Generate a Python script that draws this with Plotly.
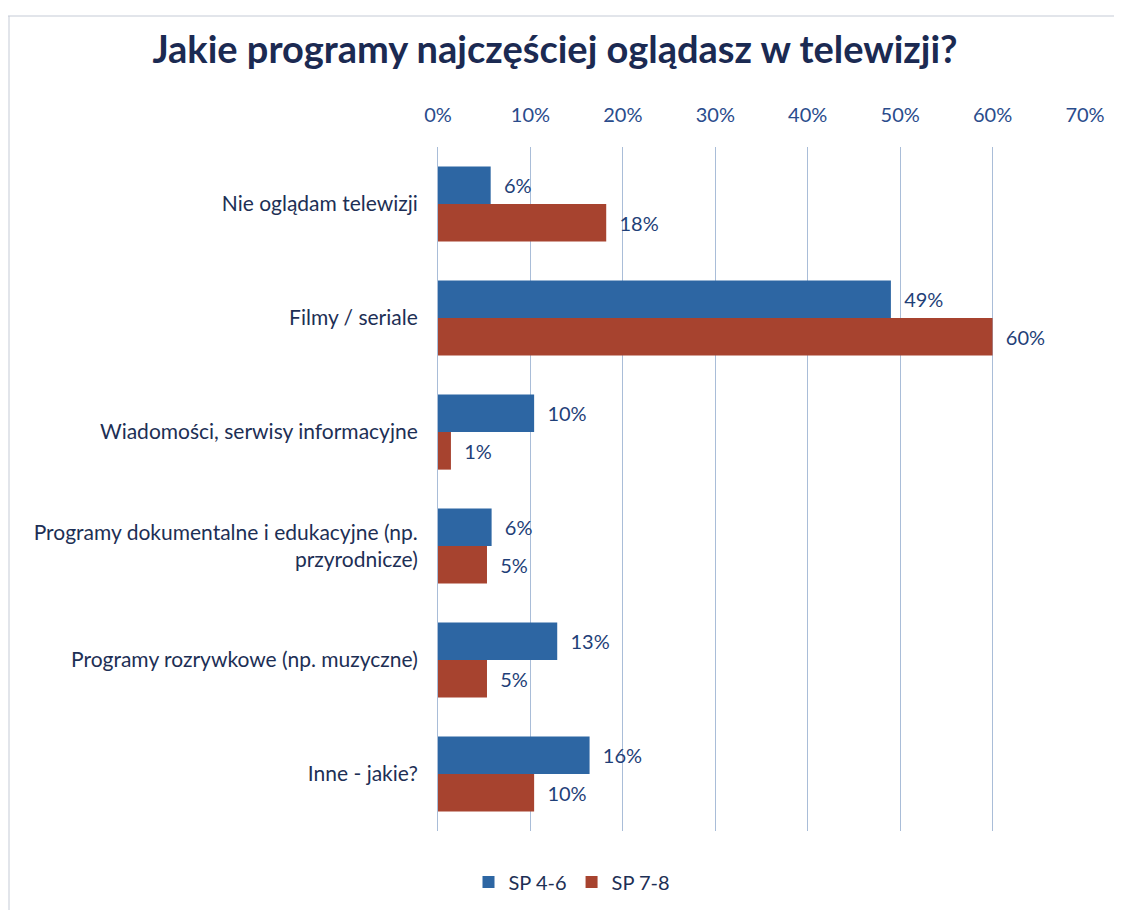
import plotly.graph_objects as go

categories = [
    "Nie oglądam telewizji",
    "Filmy / seriale",
    "Wiadomości, serwisy informacyjne",
    "Programy dokumentalne i edukacyjne (np.<br>przyrodnicze)",
    "Programy rozrywkowe (np. muzyczne)",
    "Inne - jakie?",
]
sp46 = [5.7, 49.0, 10.4, 5.8, 12.9, 16.4]
sp78 = [18.2, 60.0, 1.4, 5.3, 5.3, 10.4]
tick_vals = [0, 10, 20, 30, 40, 50, 60, 70]
tick_text = [f"{v}%" for v in tick_vals]

FONT = "Lato, Calibri, Carlito, sans-serif"
TXT = "#1d2f55"

fig = go.Figure()
fig.add_trace(go.Bar(
    y=categories, x=sp46, orientation="h", name="SP 4-6",
    marker=dict(color="#2d66a3", line=dict(width=0)),
    texttemplate="\u00a0\u00a0%{x:.0f}%", textposition="outside",
    textfont=dict(size=20, color="#1f3f78", family=FONT), cliponaxis=False,
))
fig.add_trace(go.Bar(
    y=categories, x=sp78, orientation="h", name="SP 7-8",
    marker=dict(color="#a7432f", line=dict(width=0)),
    texttemplate="\u00a0\u00a0%{x:.0f}%", textposition="outside",
    textfont=dict(size=20, color="#1f3f78", family=FONT), cliponaxis=False,
))

# page has an 8px body margin; work in screen pixels and subtract it
OFF = 8
W, H = 1122 - OFF, 910 - OFF
L, R, T, B = 438 - OFF, 37, 147 - OFF, 79
pw, ph = W - L - R, H - T - B

def px(p):
    return (p - OFF - L) / pw

def py(p):
    return (H - B - (p - OFF)) / ph

fig.update_layout(
    width=W, height=H,
    margin=dict(l=L, r=R, t=T, b=B),
    paper_bgcolor="white", plot_bgcolor="white",
    barmode="group", bargap=0.34, bargroupgap=0,
    font=dict(family=FONT, color=TXT, size=20),
    title=dict(text="<b>Jakie programy najczęściej oglądasz w telewizji?</b>",
               x=(555 - OFF) / W, xref="container", xanchor="center",
               y=1 - (50 - OFF) / H, yref="container", yanchor="middle",
               font=dict(size=38, color="#1b2a52", family=FONT)),
    legend=dict(orientation="h", x=(572 - OFF) / W, xref="container", xanchor="center",
                y=1 - (882 - OFF) / H, yref="container", yanchor="middle",
                font=dict(size=20, color=TXT), itemwidth=30,
                traceorder="normal"),
    xaxis=dict(side="top", range=[0, 70], tickvals=tick_vals, ticktext=tick_text,
               showgrid=True, gridcolor="#a9bdd8", gridwidth=1,
               zeroline=False, showline=False, ticks="",
               ticklabelstandoff=20,
               tickfont=dict(size=20, color="#2a4c8c")),
    yaxis=dict(autorange="reversed", showgrid=False, ticks="",
               showline=True, linecolor="#a9bdd8", linewidth=1,
               ticklabelstandoff=15,
               tickfont=dict(size=21, color=TXT)),
    shapes=[
        dict(type="line", xref="paper", yref="paper",
             x0=px(8), x1=px(1122), y0=py(16), y1=py(16),
             line=dict(color="#c5cbd6", width=1)),
        dict(type="line", xref="paper", yref="paper",
             x0=px(9), x1=px(9), y0=py(16), y1=py(910),
             line=dict(color="#c5cbd6", width=1)),
    ],
)

fig.write_html("out.html")
